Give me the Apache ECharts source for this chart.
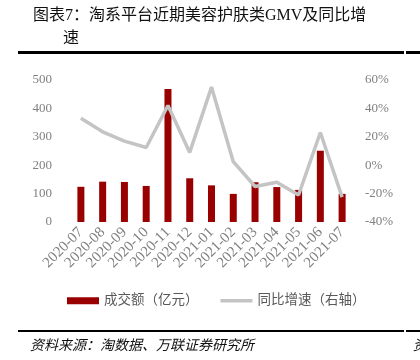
<!DOCTYPE html>
<html><head><meta charset="utf-8">
<script src="https://cdn.jsdelivr.net/npm/echarts@6/dist/echarts.min.js"></script>
<style>html,body{margin:0;padding:0;background:#fff}#c{width:420px;height:360px}</style>
</head><body><div id="c"></div>
<script>
const categories = ['2020-07','2020-08','2020-09','2020-10','2020-11','2020-12','2021-01','2021-02','2021-03','2021-04','2021-05','2021-06','2021-07'];
const gmv = [124, 142, 141, 127, 468, 154, 129, 99, 140, 123, 113, 251, 99];
const yoy = [33, 23.5, 17, 12.5, 42, 9, 55, 2.5, -15, -12, -21, 23, -22.5];
const leftTicks = [0, 500, 100];
const rightTicks = [-40, 60, 20];

const chart = echarts.init(document.getElementById('c'), null, {renderer:'canvas'});
const serif = '"Liberation Serif","DejaVu Serif","Noto Sans CJK SC",serif';
chart.setOption({
  animation:false,
  grid:{left:70, right:67, top:80, bottom:138},
  graphic:[
    {type:'text', left:33, top:8, style:{text:'图表7：淘系平台近期美容护肤类GMV及同比增', font:'16px '+serif, fill:'#111'}},
    {type:'text', left:63, top:31, style:{text:'速', font:'16px '+serif, fill:'#111'}},
    {type:'rect', shape:{x:18, y:51, width:386, height:3}, style:{fill:'#000'}},
    {type:'rect', shape:{x:406, y:51, width:14, height:3}, style:{fill:'#000'}},
    {type:'rect', shape:{x:18, y:330, width:386, height:2}, style:{fill:'#000'}},
    {type:'rect', shape:{x:406, y:330, width:14, height:2}, style:{fill:'#000'}},
    {type:'text', left:30, top:339, style:{text:'资料来源：淘数据、万联证券研究所', font:'italic 14px '+serif, fill:'#111'}},
    {type:'text', left:413, top:339, style:{text:'资', font:'italic 14px '+serif, fill:'#111'}}
  ],
  legend:{
    left:62, top:289, itemGap:22, itemWidth:32, itemHeight:7,
    textStyle:{fontSize:13.5, color:'#595959', fontFamily:serif},
    data:[{name:'成交额（亿元）', icon:'rect'},
          {name:'同比增速（右轴）', icon:'path://M0,0 L32,0 L32,3.5 L0,3.5 Z'}]
  },
  xAxis:{
    type:'category', data:categories,
    axisLine:{show:false}, axisTick:{show:false},
    axisLabel:{rotate:45, fontSize:15, color:'#808080', fontFamily:serif, interval:0, margin:8}
  },
  yAxis:[
    {type:'value', min:leftTicks[0], max:leftTicks[1], interval:leftTicks[2],
     splitLine:{show:false}, axisLine:{show:false}, axisTick:{show:false},
     axisLabel:{fontSize:13, color:'#808080', fontFamily:serif, margin:18}},
    {type:'value', min:rightTicks[0], max:rightTicks[1], interval:rightTicks[2],
     splitLine:{show:false}, axisLine:{show:false}, axisTick:{show:false},
     axisLabel:{fontSize:13, color:'#808080', fontFamily:serif, margin:12, formatter:'{value}%'}}
  ],
  series:[
    {name:'成交额（亿元）', type:'bar', data:gmv, barWidth:7, itemStyle:{color:'#990000'}},
    {name:'同比增速（右轴）', type:'line', yAxisIndex:1, data:yoy, symbol:'none',
     lineStyle:{color:'#c4c4c4', width:3.5}, itemStyle:{color:'#c4c4c4'}}
  ]
});
</script></body></html>
